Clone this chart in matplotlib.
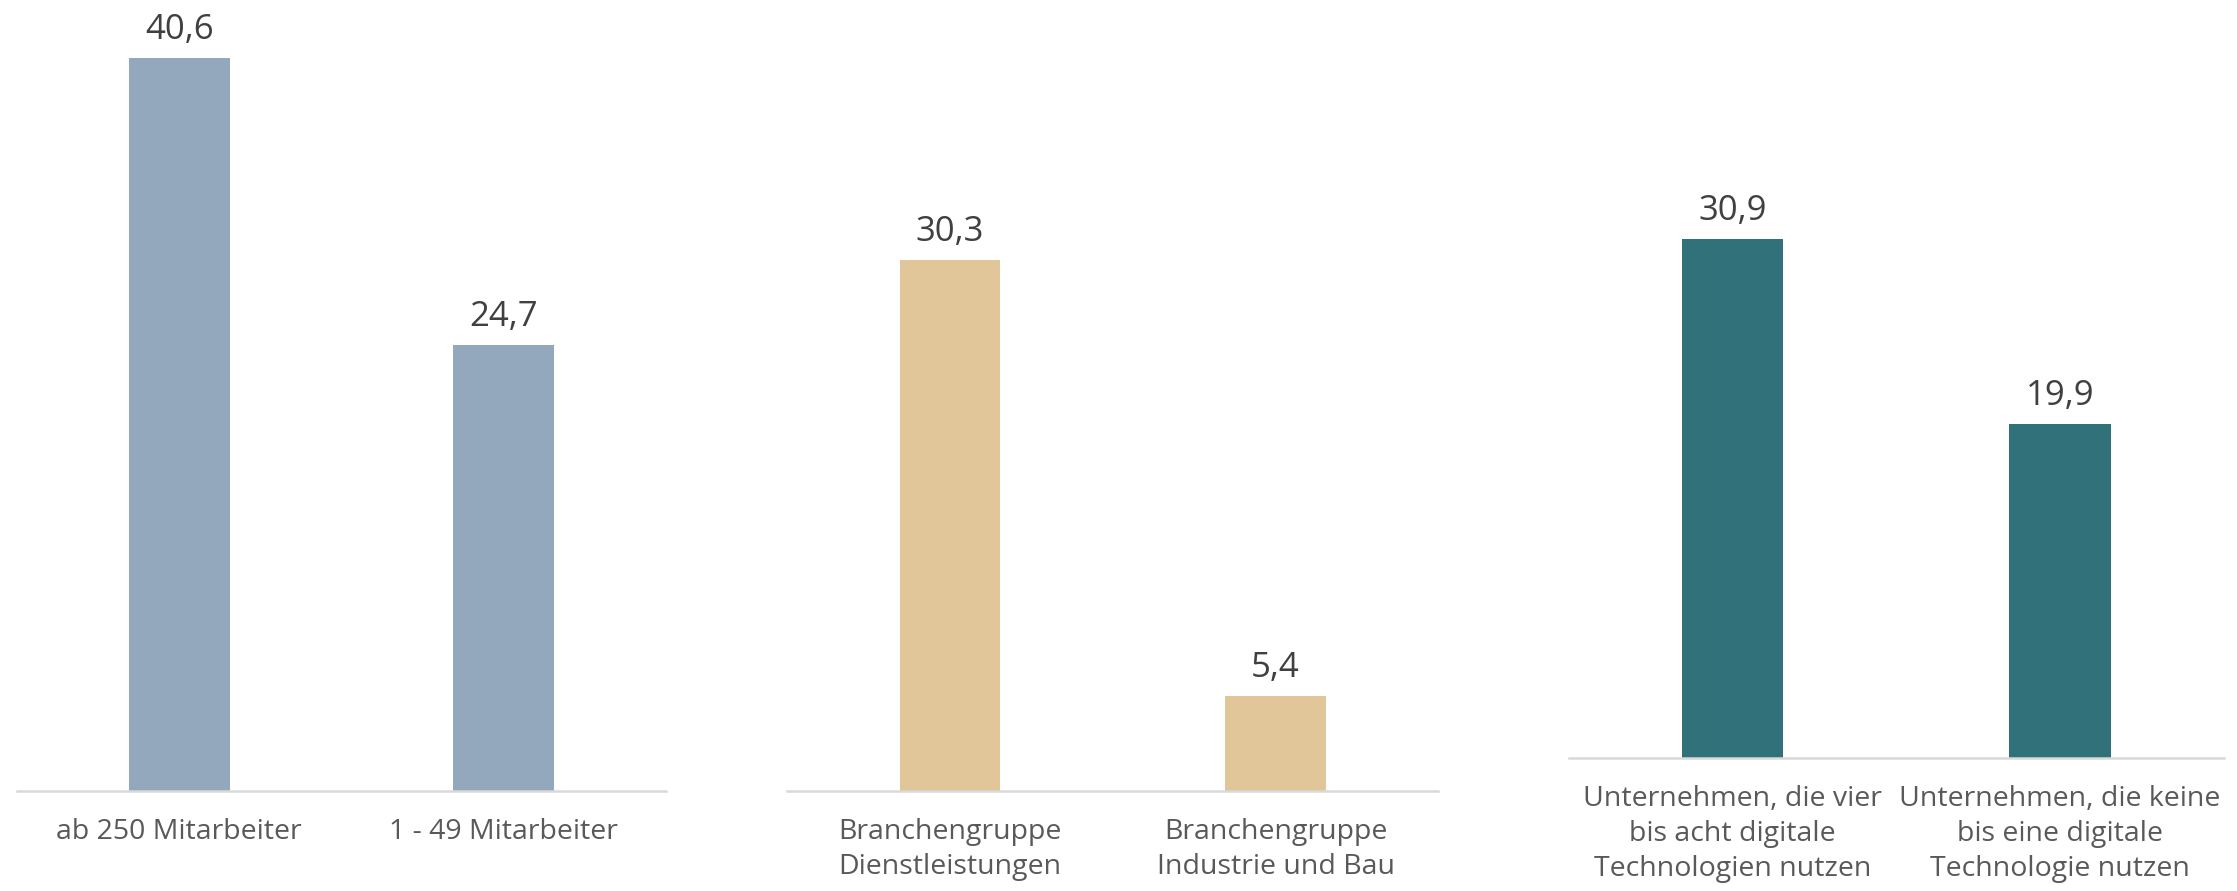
import matplotlib
matplotlib.use('Agg')
import matplotlib.pyplot as plt

plt.rcParams['font.family'] = ['Open Sans', 'DejaVu Sans']

# data per panel
size_labels = ['ab 250 Mitarbeiter', '1 - 49 Mitarbeiter']
size_values = [40.6, 24.7]

branch_labels = ['Branchengruppe\nDienstleistungen', 'Branchengruppe\nIndustrie und Bau']
branch_values = [30.3, 5.4]

tech_labels = ['Unternehmen, die vier\nbis acht digitale\nTechnologien nutzen',
               'Unternehmen, die keine\nbis eine digitale\nTechnologie nutzen']
tech_values = [30.9, 19.9]

panels = [
    # labels, values, colour, [left, bottom, width, height], ymax
    (size_labels, size_values, '#94A8BD', [0.0077, 0.112, 0.2898, 0.888], 43.8),
    (branch_labels, branch_values, '#E0C699', [0.3519, 0.112, 0.2911, 0.888], 45.1),
    (tech_labels, tech_values, '#31717A', [0.7012, 0.149, 0.2930, 0.851], 45.1),
]

fig = plt.figure(figsize=(22.37, 8.91), dpi=100)

for labels, values, color, rect, ymax in panels:
    ax = fig.add_axes(rect)
    x = [0.5, 1.5]
    ax.bar(x, values, width=0.31, color=color, zorder=2)
    ax.set_xlim(0, 2)
    ax.set_ylim(0, ymax)
    for xi, v in zip(x, values):
        ax.annotate(f'{v:.1f}'.replace('.', ','), (xi, v), xytext=(0, 8),
                    textcoords='offset points', ha='center', va='bottom',
                    fontsize=25, color='#404040')
    ax.set_xticks(x)
    ax.set_xticklabels(labels, fontsize=20.5, color='#595959', linespacing=1.35)
    ax.tick_params(axis='x', length=0, pad=19)
    ax.set_yticks([])
    for s in ['top', 'left', 'right']:
        ax.spines[s].set_visible(False)
    ax.spines['bottom'].set_color('#D9D9D9')
    ax.spines['bottom'].set_linewidth(1.8)
    ax.patch.set_alpha(0)

fig.savefig('out.png', dpi=100)
